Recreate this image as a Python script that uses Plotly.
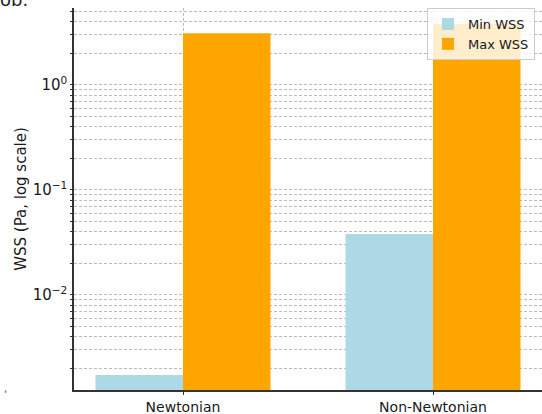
import plotly.graph_objects as go

categories = ["Newtonian", "Non-Newtonian"]
min_wss = [0.00173, 0.0381]
max_wss = [3.1, 3.8]
series_names = ["Min WSS", "Max WSS"]
y_major_ticks = [0.01, 0.1, 1]
y_major_labels = ["10<sup>−2</sup>", "10<sup>−1</sup>", "10<sup>0</sup>"]
y_minor_ticks = [m * 10.0 ** d for d in (-3, -2, -1, 0) for m in range(2, 10)]

W, H = 542, 414
L, T, B, R = 74, 8, 24, 0
pw, ph = W - L - R, H - T - B

xpos = list(range(len(categories)))
bw = 0.35

fig = go.Figure()
fig.add_trace(go.Bar(x=xpos, y=min_wss, name=series_names[0], width=bw, offset=-bw,
                     marker=dict(color="#ADD8E6", line=dict(width=0))))
fig.add_trace(go.Bar(x=xpos, y=max_wss, name=series_names[1], width=bw, offset=0,
                     marker=dict(color="#FFA500", line=dict(width=0))))

grid = dict(gridcolor="rgba(160,160,160,0.7)", griddash="3px,2px", gridwidth=0.8)

fig.update_layout(
    width=W, height=H,
    margin=dict(l=L, r=R, t=T, b=B, autoexpand=False),
    plot_bgcolor="white", paper_bgcolor="white",
    barmode="overlay",
    font=dict(family="DejaVu Sans", size=14, color="#1a1a1a"),
    showlegend=True,
    legend=dict(x=(535 - L) / pw, y=(H - B - 8) / ph, xanchor="right", yanchor="top",
                bgcolor="rgba(255,255,255,0.8)", bordercolor="#cccccc", borderwidth=1,
                font=dict(size=13), itemsizing="constant", tracegroupgap=2),
    xaxis=dict(range=[-0.436, 1.436], tickmode="array", tickvals=xpos, ticktext=categories,
               showline=True, linecolor="#333", linewidth=1.5, ticks="outside", ticklen=3,
               tickcolor="#333", showgrid=True, zeroline=False, tickfont=dict(size=14),
               automargin=False, **grid),
    yaxis=dict(type="log", range=[-2.905, 0.733], tickmode="array", tickvals=y_major_ticks,
               ticktext=y_major_labels, showline=True, linecolor="#333", linewidth=1.5,
               ticks="outside", ticklen=2, tickcolor="#333", showgrid=True, zeroline=False,
               tickfont=dict(size=15), automargin=False,
               title=dict(text="WSS (Pa, log scale)", font=dict(size=15), standoff=2),
               minor=dict(tickmode="array", tickvals=y_minor_ticks, ticks="outside", ticklen=2,
                          tickcolor="#333", showgrid=True, **grid),
               **grid),
)

fig.add_annotation(text="ob.", xref="paper", yref="paper", x=(-2 - L) / pw, y=1 + (T - 12) / ph,
                   xanchor="left", yanchor="bottom", showarrow=False,
                   font=dict(size=18, color="#222"))
fig.add_annotation(text=",", xref="paper", yref="paper", x=(2 - L) / pw, y=(H - B - 388) / ph,
                   xanchor="left", yanchor="middle", showarrow=False,
                   font=dict(size=10, color="#444"))

fig.write_html("out.html", config={"displayModeBar": False},
               post_script="document.body.style.margin='0';document.body.style.overflow='hidden';")
